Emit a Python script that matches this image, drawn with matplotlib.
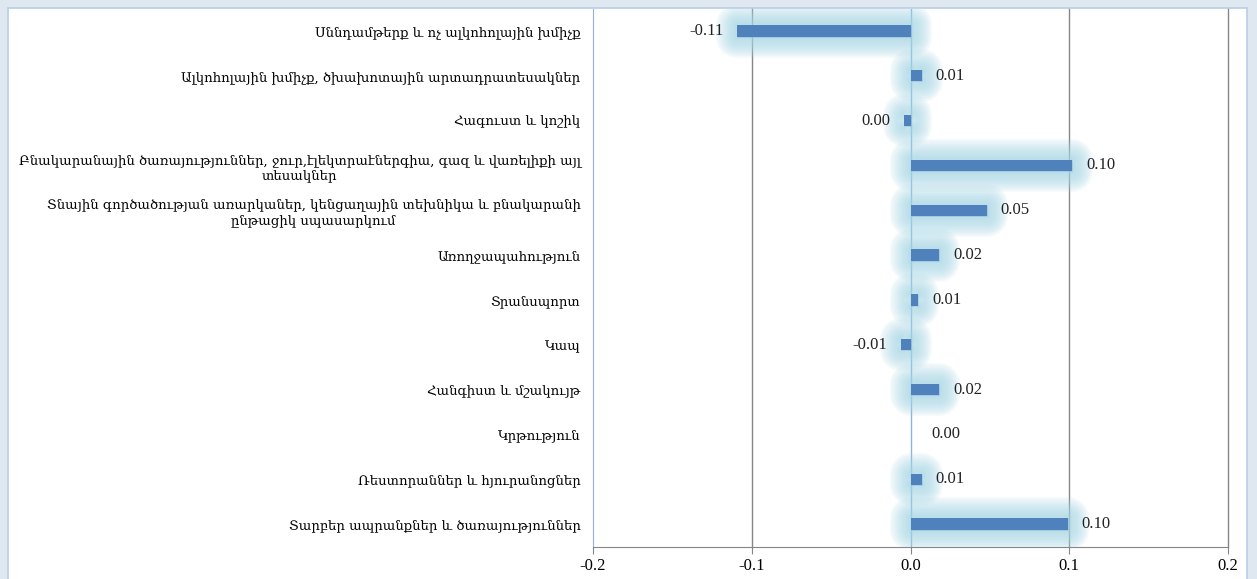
import matplotlib.pyplot as plt
import matplotlib.patheffects as pe
from matplotlib.patches import Rectangle

categories = [
    "Սննդամթերք և ոչ ալկոհոլային խմիչք",
    "Ալկոհոլային խմիչք, ծխախոտային արտադրատեսակներ",
    "Հագուստ և կոշիկ",
    "Բնակարանային ծառայություններ, ջուր,էլեկտրաէներգիա, գազ և վառելիքի այլ\nտեսակներ",
    "Տնային գործածության առարկաներ, կենցաղային տեխնիկա և բնակարանի\nընթացիկ սպասարկում",
    "Առողջապահություն",
    "Տրանսպորտ",
    "Կապ",
    "Հանգիստ և մշակույթ",
    "Կրթություն",
    "Ռեստորաններ և հյուրանոցներ",
    "Տարբեր ապրանքներ և ծառայություններ",
]
values = [-0.109, 0.007, -0.004, 0.102, 0.048, 0.018, 0.005, -0.006, 0.018, 0.0, 0.007, 0.099]
xticks = [-0.2, -0.1, 0.0, 0.1, 0.2]

fig = plt.figure(figsize=(12.57, 5.79), dpi=100)
fig.patch.set_facecolor("#dfe7f1")
# white chart panel
panel = Rectangle((8 / 1257, -0.05), 1239 / 1257, 1.05 - 8 / 579,
                  transform=fig.transFigure, facecolor="white",
                  edgecolor="#b9cde5", linewidth=1.2)
fig.add_artist(panel)
panel.set_zorder(-5)

ax = fig.add_axes([593 / 1257, 1 - 546.5 / 579, 635 / 1257, 538 / 579])
ax.set_facecolor("none")
ax.set_zorder(2)

y = list(range(len(categories)))
# soft glow around the bars
glow = [pe.Stroke(linewidth=w, foreground="#a8d8e6", alpha=0.13,
                  joinstyle="round", capstyle="round")
        for w in range(30, 2, -3)] + [pe.Normal()]
bars = ax.barh(y, values, height=0.25, color="#4f81bd", zorder=3)
for b, v in zip(bars, values):
    if v != 0:
        b.set_path_effects(glow)

for yi, v in zip(y, values):
    off = 10 if v >= 0 else -10
    if v == 0:
        off = 15
    ax.annotate(f"{abs(v):.2f}" if abs(v) < 0.005 else f"{v:.2f}", (v, yi),
                xytext=(off, 0), textcoords="offset points",
                ha="left" if v >= 0 else "right", va="center",
                fontsize=12, family="Liberation Serif", color="#222222", zorder=4)

ax.set_ylim(len(categories) - 0.5, -0.5)
ax.set_xlim(-0.2, 0.2)
ax.set_xticks(xticks)
ax.set_xticklabels([f"{t:.1f}" for t in xticks], fontsize=12, family="Liberation Serif")
ax.set_yticks(y)
ax.set_yticklabels(categories, fontsize=9.5, family=["DejaVu Serif", "DejaVu Sans"],
                   multialignment="center")
ax.tick_params(axis="y", length=0, pad=9)
ax.tick_params(axis="x", length=5, color="#868686", direction="out")

for t in [-0.1, 0.1, 0.2]:
    ax.axvline(t, color="#868686", linewidth=1, zorder=1, clip_on=False)
ax.axvline(0, color="#8db3e2", linewidth=1, zorder=2)

for s in ["top", "right"]:
    ax.spines[s].set_visible(False)
ax.spines["left"].set_color("#8db3e2")
ax.spines["bottom"].set_color("#868686")

fig.savefig("out.png", dpi=100)
